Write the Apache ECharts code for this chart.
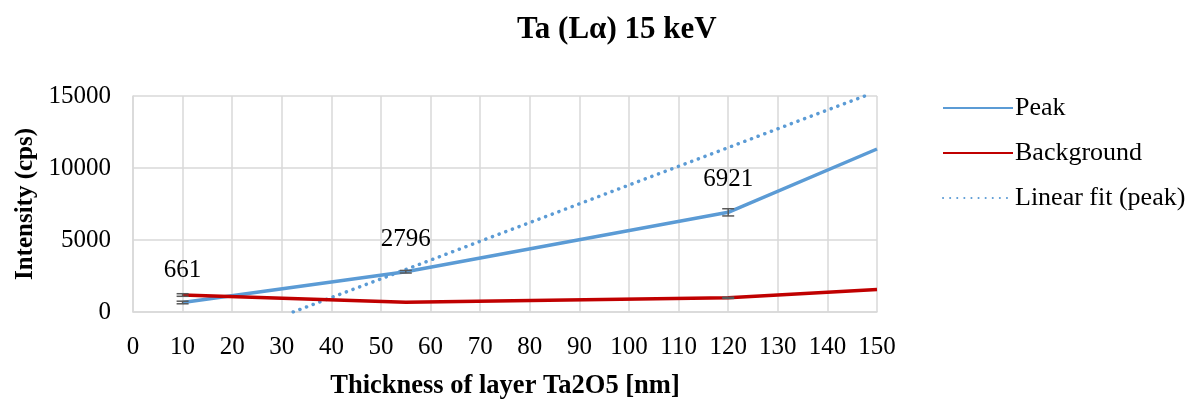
<!DOCTYPE html>
<html>
<head>
<meta charset="utf-8">
<script src="https://cdn.jsdelivr.net/npm/echarts@6/dist/echarts.min.js"></script>
<style>html,body{margin:0;padding:0;background:#fff}#c{width:1200px;height:405px}</style>
</head>
<body>
<div id="c"></div>
<script>
const thickness = [10, 55, 120, 150];
const peak = [661, 2796, 6921, 11320];
const background = [1180, 680, 985, 1560];
const peakErr = [90, 90, 250, 0];
const bgErr = [90, 0, 40, 0];
const labelX = [10, 55, 120];
const labelY = [661, 2796, 6921];
const labelText = ['661', '2796', '6921'];
const fitX = [32.3, 147.5];
const fitY = [0, 15000];

const FONT = '"Liberation Serif", "Times New Roman", serif';
const blue = '#5b9bd5', red = '#c00000';

function pairs(xs, ys) { return xs.map((x, i) => [x, ys[i]]); }
function errData(xs, ys, es) { return xs.map((x, i) => [x, ys[i], es[i]]).filter(d => d[2] > 0); }

function renderErr(params, api) {
  const x = api.value(0), y = api.value(1), e = api.value(2);
  const top = api.coord([x, y + e]);
  const bot = api.coord([x, y - e]);
  const hw = 6;
  const st = { stroke: '#595959', lineWidth: 1.5 };
  return {
    type: 'group',
    children: [
      { type: 'line', shape: { x1: top[0], y1: top[1], x2: bot[0], y2: bot[1] }, style: st },
      { type: 'line', shape: { x1: top[0] - hw, y1: top[1], x2: top[0] + hw, y2: top[1] }, style: st },
      { type: 'line', shape: { x1: bot[0] - hw, y1: bot[1], x2: bot[0] + hw, y2: bot[1] }, style: st }
    ]
  };
}

const chart = echarts.init(document.getElementById('c'), null, { renderer: 'canvas' });
chart.setOption({
  animation: false,
  backgroundColor: '#fff',
  title: {
    text: 'Ta (Lα) 15 keV',
    left: 512,
    top: 9,
    textStyle: { fontFamily: FONT, fontSize: 31, fontWeight: 'bold', color: '#000' }
  },
  legend: {
    orient: 'vertical',
    left: 937,
    top: 90,
    itemWidth: 70,
    itemHeight: 14,
    itemGap: 19,
    itemStyle: { opacity: 0 },
    textStyle: { fontFamily: FONT, fontSize: 26, color: '#000', padding: [0, 0, 0, -3] },
    data: ['Peak', 'Background', 'Linear fit (peak)']
  },
  grid: { left: 133, right: 323, top: 96, bottom: 84, containLabel: false },
  xAxis: {
    type: 'value', min: 0, max: 150, interval: 10,
    name: 'Thickness of layer Ta2O5 [nm]',
    nameLocation: 'middle', nameGap: 61,
    nameTextStyle: { fontFamily: FONT, fontSize: 26.5, fontWeight: 'bold', color: '#000' },
    axisLine: { show: true, lineStyle: { color: '#d9d9d9', width: 1.5 } },
    axisTick: { show: false },
    axisLabel: { fontFamily: FONT, fontSize: 25, color: '#000', margin: 23 },
    splitLine: { show: true, lineStyle: { color: '#d9d9d9', width: 1.5 } }
  },
  yAxis: {
    type: 'value', min: 0, max: 15000, interval: 5000,
    name: 'Intensity (cps)',
    nameLocation: 'middle', nameGap: 95,
    nameTextStyle: { fontFamily: FONT, fontSize: 25, fontWeight: 'bold', color: '#000' },
    axisLine: { show: true, lineStyle: { color: '#d9d9d9', width: 1.5 } },
    axisTick: { show: false },
    axisLabel: { fontFamily: FONT, fontSize: 25, color: '#000', margin: 22, formatter: v => String(v) },
    splitLine: { show: true, lineStyle: { color: '#d9d9d9', width: 1.5 } }
  },
  series: [
    {
      name: 'Peak', type: 'line', data: pairs(thickness, peak),
      symbol: 'none', color: blue,
      lineStyle: { color: blue, width: 3.5 },
      z: 3
    },
    {
      name: 'Background', type: 'line', data: pairs(thickness, background),
      symbol: 'none', color: red,
      lineStyle: { color: red, width: 3.5 },
      z: 3
    },
    {
      name: 'Linear fit (peak)', type: 'line', data: pairs(fitX, fitY),
      symbol: 'none', color: blue,
      lineStyle: { color: blue, width: 3.5, type: [0.1, 7], cap: 'round' },
      z: 2
    },
    {
      name: 'labels', type: 'scatter', data: pairs(labelX, labelY),
      symbolSize: 2, itemStyle: { color: '#000', opacity: 0 },
      label: {
        show: true, position: 'top', distance: 19, opacity: 1,
        fontFamily: FONT, fontSize: 25, color: '#000',
        textBorderWidth: 0,
        formatter: p => labelText[p.dataIndex]
      },
      silent: true, z: 5
    },
    {
      type: 'custom', renderItem: renderErr, data: errData(thickness, peak, peakErr),
      encode: { x: 0, y: [1] }, z: 4, silent: true
    },
    {
      type: 'custom', renderItem: renderErr, data: errData(thickness, background, bgErr),
      encode: { x: 0, y: [1] }, z: 4, silent: true
    }
  ]
});
</script>
</body>
</html>
